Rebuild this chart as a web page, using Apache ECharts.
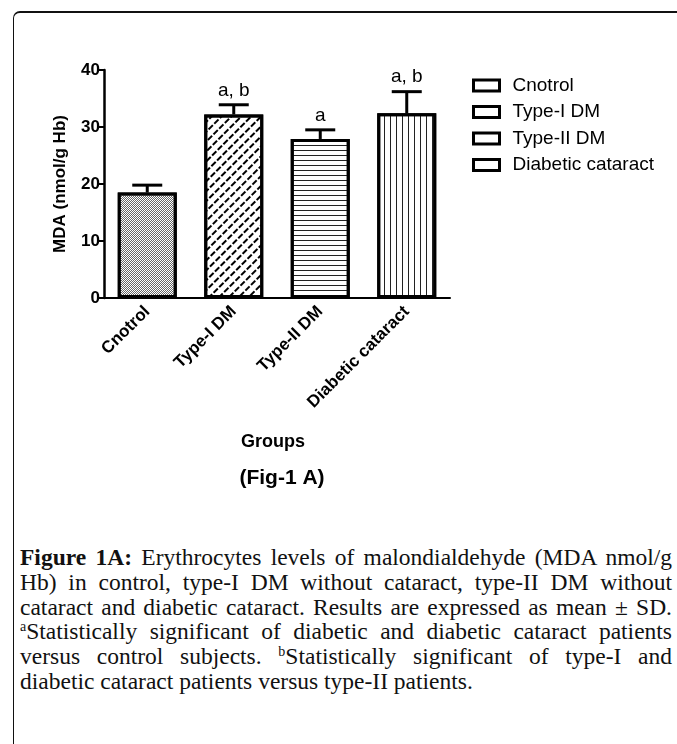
<!DOCTYPE html>
<html>
<head>
<meta charset="utf-8">
<script src="https://cdn.jsdelivr.net/npm/echarts@6/dist/echarts.min.js"></script>
<style>
html,body{margin:0;padding:0;background:#fff;width:677px;height:744px;overflow:hidden;}
#frame{position:absolute;left:13px;top:11px;width:800px;height:900px;border-left:1.5px solid #111;border-top:2px solid #111;border-top-left-radius:7px;box-sizing:border-box;}
#chart{position:absolute;left:0;top:0;width:677px;height:520px;}
#cap{position:absolute;left:20px;top:545px;width:652px;font-family:"Liberation Serif","Times New Roman",serif;font-size:23.5px;line-height:24.8px;color:#111;}
#cap div{white-space:nowrap;text-align:justify;text-align-last:justify;height:24.8px;}
#cap div.last{text-align-last:left;}
#cap sup{font-size:14px;line-height:0;vertical-align:8px;}
</style>
</head>
<body>
<div id="frame"></div>
<div id="chart"></div>
<div id="cap">
<div><b>Figure 1A:</b> Erythrocytes levels of malondialdehyde (MDA nmol/g</div>
<div>Hb) in control, type-I DM without cataract, type-II DM without</div>
<div>cataract and diabetic cataract. Results are expressed as mean ± SD.</div>
<div><sup>a</sup>Statistically significant of diabetic and diabetic cataract patients</div>
<div>versus control subjects. <sup>b</sup>Statistically significant of type-I and</div>
<div class="last">diabetic cataract patients versus type-II patients.</div>
</div>
<script>
const categories = ['Cnotrol', 'Type-I DM', 'Type-II DM', 'Diabetic cataract'];
const means = [18.5, 32.2, 27.9, 32.4];
const sds = [1.3, 1.7, 1.6, 3.8];
const sigLabels = ['', 'a, b', 'a', 'a, b'];
const yTicks = [0, 10, 20, 30, 40];

const FONT = '"Liberation Sans", Arial, sans-serif';
const decals = [
  {symbol: 'rect', symbolSize: 1, color: '#666', dashArrayX: [[1, 1], [0, 1, 1, 0]], dashArrayY: [1, 0], rotation: 0},
  {symbol: 'rect', symbolSize: 1, color: '#000', dashArrayX: [6, 2], dashArrayY: [2, 5], rotation: -Math.PI / 4},
  {symbol: 'rect', symbolSize: 1, color: '#222', dashArrayX: [1, 0], dashArrayY: [1, 4], rotation: 0},
  {symbol: 'rect', symbolSize: 1, color: '#222', dashArrayX: [1, 5], dashArrayY: [1, 0], rotation: 0}
];

const barSeries = categories.map((name, i) => ({
  name: name,
  type: 'bar',
  barWidth: 59,
  barGap: '-100%',
  data: means.map((v, j) => (j === i ? v : '-')),
  itemStyle: {color: '#fff', borderColor: '#000', borderWidth: 3, decal: decals[i]},
  emphasis: {disabled: true},
  z: 2
}));

const errSeries = {
  type: 'custom',
  data: means.map((v, i) => [i, v, sds[i]]),
  z: 5,
  renderItem: function (params, api) {
    const x = api.value(0), v = api.value(1), e = api.value(2);
    const p0 = api.coord([x, v]);
    const p1 = api.coord([x, v + e]);
    const lbl = sigLabels[params.dataIndex];
    return {
      type: 'group',
      children: [
        {type: 'line', shape: {x1: p0[0], y1: p0[1], x2: p1[0], y2: p1[1]}, style: {stroke: '#000', lineWidth: 3}},
        {type: 'line', shape: {x1: p1[0] - 15, y1: p1[1], x2: p1[0] + 15, y2: p1[1]}, style: {stroke: '#000', lineWidth: 3}},
        {type: 'text', x: p1[0], y: p1[1] - 5, style: {text: lbl, fill: '#000', font: '19px ' + FONT, align: 'center', verticalAlign: 'bottom'}}
      ]
    };
  }
};

const chart = echarts.init(document.getElementById('chart'), null, {renderer: 'canvas'});
chart.setOption({
  animation: false,
  backgroundColor: 'transparent',
  grid: {left: 104, right: 227, top: 70, bottom: 222},
  legend: {
    orient: 'vertical',
    left: 467,
    top: 71,
    itemWidth: 26,
    itemHeight: 11,
    itemGap: 7.5,
    icon: 'rect',
    data: categories,
    itemStyle: {color: '#fff', borderColor: '#000', borderWidth: 3, decal: 'none'},
    textStyle: {fontFamily: FONT, fontSize: 19, color: '#000', padding: [0, 0, 0, 8]},
    selectedMode: false
  },
  xAxis: {
    type: 'category',
    data: categories,
    axisLine: {lineStyle: {color: '#000', width: 2}},
    axisTick: {alignWithLabel: true, length: 5, lineStyle: {color: '#000', width: 2}},
    axisLabel: {rotate: 45, margin: 11, fontFamily: FONT, fontWeight: 'bold', fontSize: 17, color: '#000', interval: 0}
  },
  yAxis: {
    type: 'value',
    min: yTicks[0],
    max: yTicks[yTicks.length - 1],
    interval: 10,
    name: 'MDA (nmol/g Hb)',
    nameLocation: 'middle',
    nameGap: 35.5,
    nameRotate: 90,
    nameTextStyle: {fontFamily: FONT, fontWeight: 'bold', fontSize: 17, color: '#000'},
    axisLine: {show: true, lineStyle: {color: '#000', width: 2.5}},
    axisTick: {show: true, length: 5, lineStyle: {color: '#000', width: 2}},
    splitLine: {show: false},
    axisLabel: {margin: 4, fontFamily: FONT, fontWeight: 'bold', fontSize: 17, color: '#000'}
  },
  graphic: [
    {type: 'text', x: 273, y: 442, style: {text: 'Groups', font: 'bold 18px ' + FONT, fill: '#000', align: 'center', verticalAlign: 'middle'}},
    {type: 'text', x: 282, y: 478, style: {text: '(Fig-1 A)', font: 'bold 21px ' + FONT, fill: '#000', align: 'center', verticalAlign: 'middle'}}
  ],
  series: barSeries.concat([errSeries])
});
</script>
</body>
</html>
